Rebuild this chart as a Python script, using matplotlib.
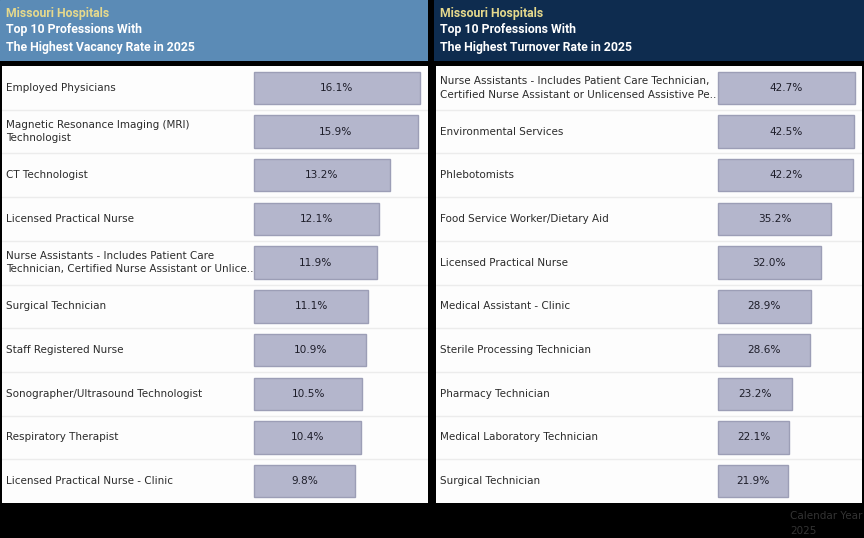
import matplotlib
matplotlib.use("Agg")
import matplotlib.pyplot as plt
from matplotlib.patches import Rectangle

plt.rcParams['font.family'] = ['DejaVu Sans']

left_labels = [
    "Employed Physicians",
    "Magnetic Resonance Imaging (MRI)\nTechnologist",
    "CT Technologist",
    "Licensed Practical Nurse",
    "Nurse Assistants - Includes Patient Care\nTechnician, Certified Nurse Assistant or Unlice..",
    "Surgical Technician",
    "Staff Registered Nurse",
    "Sonographer/Ultrasound Technologist",
    "Respiratory Therapist",
    "Licensed Practical Nurse - Clinic",
]
left_values = [16.1, 15.9, 13.2, 12.1, 11.9, 11.1, 10.9, 10.5, 10.4, 9.8]

right_labels = [
    "Nurse Assistants - Includes Patient Care Technician,\nCertified Nurse Assistant or Unlicensed Assistive Pe..",
    "Environmental Services",
    "Phlebotomists",
    "Food Service Worker/Dietary Aid",
    "Licensed Practical Nurse",
    "Medical Assistant - Clinic",
    "Sterile Processing Technician",
    "Pharmacy Technician",
    "Medical Laboratory Technician",
    "Surgical Technician",
]
right_values = [42.7, 42.5, 42.2, 35.2, 32.0, 28.9, 28.6, 23.2, 22.1, 21.9]

left_title = ["Missouri Hospitals", "Top 10 Professions With", "The Highest Vacancy Rate in 2025"]
right_title = ["Missouri Hospitals", "Top 10 Professions With", "The Highest Turnover Rate in 2025"]

W, H = 864, 538
fig = plt.figure(figsize=(W / 100, H / 100), dpi=100, facecolor="black")

def px_axes(x0, y0, x1, y1):
    return fig.add_axes([x0 / W, 1 - y1 / H, (x1 - x0) / W, (y1 - y0) / H])

BAR_COLOR = "#b4b6cc"
BAR_EDGE = "#9c9eb6"

def header(x0, x1, color, lines):
    ax = px_axes(x0, 0, x1, 61)
    ax.set_xlim(0, 1)
    ax.set_ylim(0, 1)
    ax.axis("off")
    ax.add_patch(Rectangle((0, 0), 1, 1, transform=ax.transAxes, color=color))
    ys = [14, 30, 47]
    cols = ["#e6d98c", "white", "white"]
    for t, yy, c in zip(lines, ys, cols):
        fig.text((x0 + 6) / W, 1 - yy / H, t, color=c, fontsize=8.8, fontweight="bold",
                 family="Roboto", va="center", ha="left")

def table(x0, x1, bar_px, scale, labels, values):
    ax = px_axes(x0, 66, x1, 503)
    ax.set_facecolor("#fdfdfd")
    n = len(labels)
    xmin = -(bar_px - x0) / scale
    xmax = (x1 - bar_px) / scale
    ax.set_xlim(xmin, xmax)
    ax.set_ylim(n, 0)
    for s in ax.spines.values():
        s.set_visible(False)
    ax.set_xticks([])
    ax.set_yticks([])
    for i in range(1, n):
        ax.axhline(i, color="#ececec", lw=1)
    ys = [i + 0.5 for i in range(n)]
    ax.barh(ys, values, height=0.74, left=0, color=BAR_COLOR, edgecolor=BAR_EDGE, lw=1)
    for y, lab, v in zip(ys, labels, values):
        ax.text(xmin + 4 / scale, y, lab, va="center", ha="left", fontsize=7.5,
                color="#2b2b2b", linespacing=1.45)
        ax.text(v / 2, y, f"{v:.1f}%", va="center", ha="center", fontsize=7.6, color="#1e1e2a")

header(0, 428, "#5b8bb6", left_title)
header(434, 864, "#0e2c4f", right_title)
table(2, 428, 254, 166 / 16.1, left_labels, left_values)
table(436, 862, 718, 137 / 42.7, right_labels, right_values)

fig.text(790 / W, 1 - 516 / H, "Calendar Year", color="#333333", fontsize=7.5, va="center", ha="left")
fig.text(790 / W, 1 - 531 / H, "2025", color="#333333", fontsize=7.5, va="center", ha="left")

fig.savefig("out.png", dpi=100, facecolor="black")
